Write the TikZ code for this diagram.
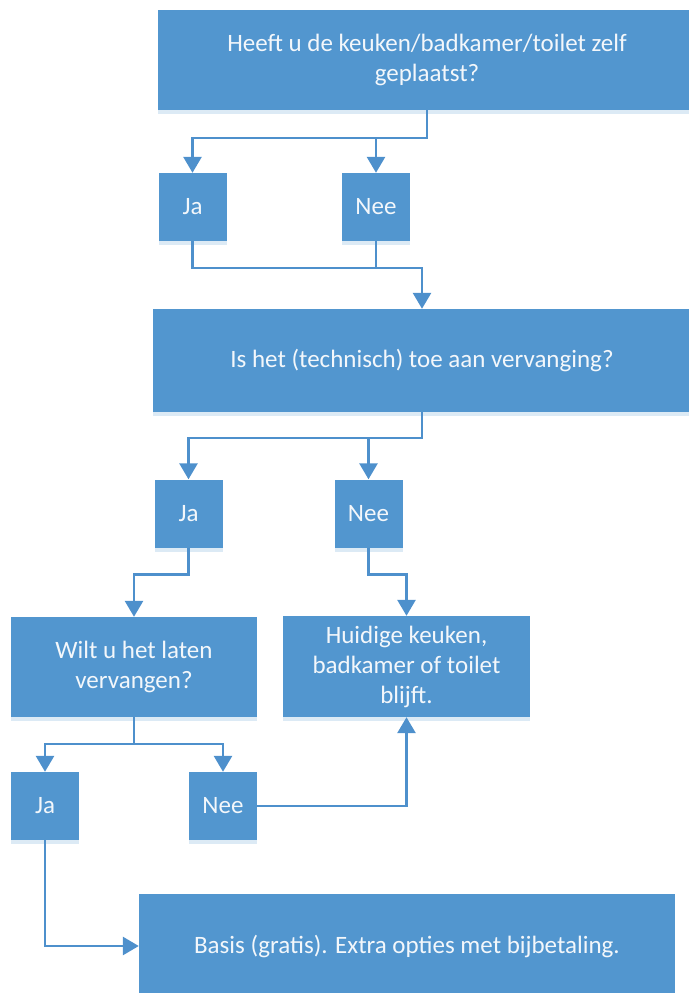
\documentclass[tikz,border=0pt]{standalone}
\usepackage{fontspec}
\setmainfont{Carlito}
\usetikzlibrary{arrows.meta,shadows}

\begin{document}
\begin{tikzpicture}[x=1pt, y=-1pt,
    box/.style={fill=boxblue, text=boxtext, align=center, inner sep=0pt,
        font=\fontsize{25}{30}\selectfont,
        drop shadow={shadow xshift=0pt, shadow yshift=-4pt, fill=boxblue!20, opacity=1}},
    wide/.style={box, minimum width=538pt, minimum height=102pt},
    half/.style={box, minimum width=247pt, minimum height=101pt},
    answer/.style={box, minimum width=68pt, minimum height=68pt},
    line/.style={draw=lineblue, line width=2.8pt},
    conn/.style={line, -{Triangle[width=18pt,length=16pt]}}]
    % Define colors
    \definecolor{boxblue}{RGB}{82,150,207} % box fill
    \definecolor{lineblue}{RGB}{78,144,204} % connectors
    \definecolor{boxtext}{RGB}{243,247,251} % text in boxes

    % Page size
    \useasboundingbox (0,0) rectangle (688,993);

    % First question
    \node[wide, minimum height=100pt] (q1) at (427,60) {Heeft u de keuken/badkamer/toilet zelf\\geplaatst?};
    \node[answer] (ja1) at (192.5,207) {Ja};
    \node[answer] (nee1) at (376,207) {Nee};

    % Second question
    \node[wide, minimum height=103pt] (q2) at (422,360.5) {Is het (technisch) toe aan vervanging?};
    \node[answer] (ja2) at (188.5,513.5) {Ja};
    \node[answer] (nee2) at (368.5,513.5) {Nee};

    % Third question and outcome
    \node[half, minimum width=246pt, minimum height=100pt] (q3) at (134,667) {Wilt u het laten\\vervangen?};
    \node[half] (keep) at (406.5,666.5) {Huidige keuken,\\badkamer of toilet\\blijft.};
    \node[answer] (ja3) at (45,806) {Ja};
    \node[answer] (nee3) at (223,806) {Nee};

    % Final outcome
    \node[wide, minimum width=536pt, minimum height=104pt] (basis) at (407,946) {Basis (gratis). Extra opties met bijbetaling.};

    % Branch points
    \coordinate (split1) at (427,138);
    \coordinate (join1) at (422,268);
    \coordinate (split2) at (422,438);
    \coordinate (split3) at (134,744);

    % Connectors
    \draw[conn] (q1.south) -- (split1) -| (ja1.north);
    \draw[conn] (split1) -| (nee1.north);
    \draw[conn] (ja1.south) |- (join1) -- (q2.north);
    \draw[line] (nee1.south) -- (nee1.south |- join1);

    \draw[conn] (q2.south) -- (split2) -| (ja2.north);
    \draw[conn] (split2) -| (nee2.north);
    \draw[conn] (ja2.south) -- ++(0,27) -| (q3.north);
    \draw[conn] (nee2.south) -- ++(0,27) -| (keep.north);

    \draw[conn] (q3.south) -- (split3) -| (ja3.north);
    \draw[conn] (split3) -| (nee3.north);
    \draw[conn] (nee3.east) -| (keep.south);
    \draw[conn] (ja3.south) |- (basis.west);
\end{tikzpicture}
\end{document}
